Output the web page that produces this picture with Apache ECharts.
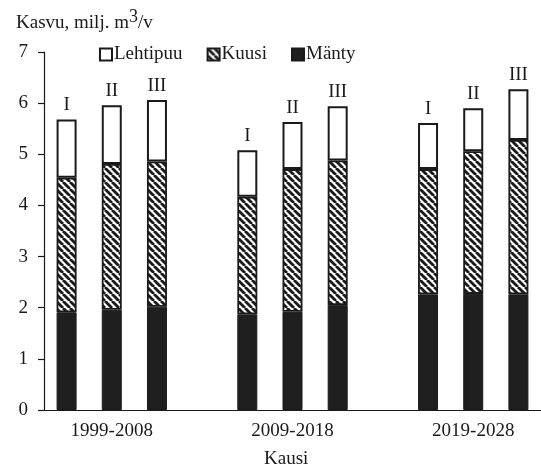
<!DOCTYPE html>
<html>
<head>
<meta charset="utf-8">
<script src="https://cdn.jsdelivr.net/npm/echarts@6/dist/echarts.min.js"></script>
<style>
  html, body { margin: 0; padding: 0; background: #fff; }
  #chart { width: 541px; height: 466px; }
</style>
</head>
<body>
<div id="chart"></div>
<script>
// Periods and the three alternatives shown inside each period
const periods = ['1999-2008', '2009-2018', '2019-2028'];
const alternatives = ['I', 'II', 'III'];

// Annual increment, million m3 per year (stack order: Mänty, Kuusi, Lehtipuu)
const manty    = [1.91, 1.96, 2.02,  1.87, 1.92, 2.05,  2.26, 2.27, 2.26];
const kuusi    = [2.63, 2.85, 2.84,  2.30, 2.79, 2.83,  2.45, 2.79, 3.02];
const lehtipuu = [1.14, 1.15, 1.20,  0.91, 0.92, 1.06,  0.90, 0.84, 0.99];

const yTicks = [0, 1, 2, 3, 4, 5, 6, 7];

// Category slots: three bars per period with an empty slot between periods
const slots = [];
const slotLabel = {};
const slotAlt = {};
periods.forEach((p, pi) => {
  alternatives.forEach((a, ai) => {
    const key = p + ' ' + a;
    slots.push(key);
    slotLabel[key] = ai === 1 ? p : '';
    slotAlt[key] = a;
  });
  if (pi < periods.length - 1) {
    const gap = 'gap' + pi;
    slots.push(gap);
    slotLabel[gap] = '';
  }
});

// Spread a 9-value series onto the slot list (gaps stay empty)
function spread(values) {
  const out = [];
  let i = 0;
  slots.forEach(s => {
    if (s.startsWith('gap')) out.push('-');
    else out.push(values[i++]);
  });
  return out;
}

// Diagonal hatch used for spruce
function hatch() {
  const s = 7;
  const c = document.createElement('canvas');
  c.width = s; c.height = s;
  const g = c.getContext('2d');
  g.fillStyle = '#ffffff';
  g.fillRect(0, 0, s, s);
  g.strokeStyle = '#1a1a1a';
  g.lineWidth = 2.8;
  for (let k = -1; k <= 1; k++) {
    g.beginPath();
    g.moveTo(k * s, 0);
    g.lineTo(k * s + s, s);
    g.stroke();
  }
  return { image: c, repeat: 'repeat' };
}

const serif = '"Liberation Serif", "DejaVu Serif", serif';
const ink = '#1a1a1a';
const fs = 19;

const chart = echarts.init(document.getElementById('chart'), null, { renderer: 'canvas' });

chart.setOption({
  backgroundColor: '#ffffff',
  animation: false,
  textStyle: { fontFamily: serif, color: ink },
  title: [
    {
      text: '{a|Kasvu, milj. m}{s|3}{a|/v}',
      left: 11, top: 3,
      textStyle: {
        fontWeight: 'normal',
        rich: {
          a: { fontFamily: serif, fontSize: fs, fontWeight: 'normal', color: ink, verticalAlign: 'bottom' },
          s: { fontFamily: serif, fontSize: 18, fontWeight: 'normal', color: ink, verticalAlign: 'bottom', padding: [0, 0, 7, 0] }
        }
      }
    },
    {
      text: 'Kausi',
      left: 259, top: 445,
      textStyle: { fontFamily: serif, fontSize: fs, fontWeight: 'normal', color: ink }
    }
  ],
  legend: {
    left: 94, top: 40,
    itemWidth: 12, itemHeight: 12, itemGap: 24,
    icon: 'rect',
    textStyle: { fontFamily: serif, fontSize: fs, color: ink, padding: [0, 0, 0, -3] },
    data: ['Lehtipuu', 'Kuusi', 'Mänty']
  },
  grid: { left: 44, top: 52, width: 499, bottom: 56, containLabel: false },
  xAxis: {
    type: 'category',
    data: slots,
    axisLine: { lineStyle: { color: ink, width: 1.2 } },
    axisTick: { show: false },
    axisLabel: {
      interval: 0, margin: 12,
      fontFamily: serif, fontSize: fs, color: ink,
      formatter: v => slotLabel[v]
    }
  },
  yAxis: {
    type: 'value',
    min: yTicks[0], max: yTicks[yTicks.length - 1], interval: 1,
    splitLine: { show: false },
    axisLine: { show: true, lineStyle: { color: ink, width: 1.2 } },
    axisTick: { show: true, inside: false, length: 6, lineStyle: { color: ink, width: 1.2 } },
    axisLabel: { fontFamily: serif, fontSize: fs, color: ink, margin: 16 }
  },
  series: [
    {
      name: 'Mänty', type: 'bar', stack: 'kasvu', barWidth: 20,
      data: spread(manty),
      itemStyle: { color: '#1f1f1f', borderColor: ink, borderWidth: 1 }
    },
    {
      name: 'Kuusi', type: 'bar', stack: 'kasvu', barWidth: 20,
      data: spread(kuusi),
      itemStyle: { color: hatch(), borderColor: ink, borderWidth: 1.8 }
    },
    {
      name: 'Lehtipuu', type: 'bar', stack: 'kasvu', barWidth: 20,
      data: spread(lehtipuu),
      itemStyle: { color: '#ffffff', borderColor: ink, borderWidth: 2 },
      label: {
        show: true, position: 'top', distance: 5,
        fontFamily: serif, fontSize: fs, color: ink,
        formatter: p => slotAlt[p.name] || ''
      }
    }
  ]
});
</script>
</body>
</html>
